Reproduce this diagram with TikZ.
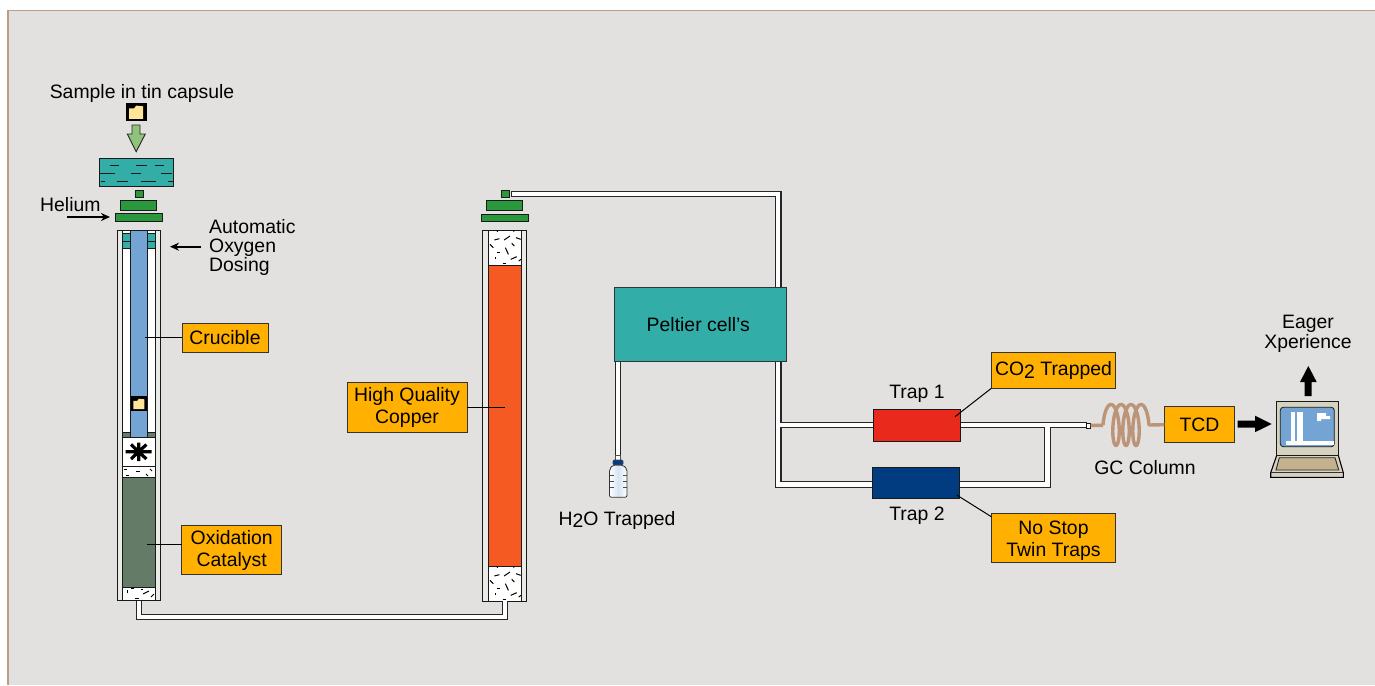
\documentclass[tikz,border=0pt]{standalone}
\usepackage{fontspec}
\setmainfont{Liberation Sans}
\definecolor{bgc}{HTML}{E2E1DF}
\definecolor{edgec}{HTML}{BC9E87}
\definecolor{tealc}{HTML}{33ADA8}
\definecolor{greenc}{HTML}{2A983C}
\definecolor{cruc}{HTML}{74A4D3}
\definecolor{copperc}{HTML}{F55A22}
\definecolor{catc}{HTML}{647B68}
\definecolor{redc}{HTML}{E8291C}
\definecolor{navyc}{HTML}{003C7F}
\definecolor{tagc}{HTML}{FFB000}
\definecolor{arrowg}{HTML}{8FC27A}
\definecolor{yelc}{HTML}{FFE59A}
\definecolor{coilc}{HTML}{BC9478}
\definecolor{pcbody}{HTML}{D6D2C0}
\definecolor{pckey}{HTML}{C4B28E}
\definecolor{wallc}{HTML}{E9ECE6}
\usetikzlibrary{arrows.meta}
\tikzset{
  lab/.style={font=\fontsize{19.4}{20.6}\selectfont, text=black, align=center, inner sep=0pt},
  labl/.style={lab, align=left, anchor=west},
  tagbox/.style={draw=black!80, line width=1pt, fill=tagc, inner sep=0pt, outer sep=0pt, align=center,
    font=\fontsize{19.4}{22}\selectfont, text=black},
  part/.style={draw=black!90, line width=1pt, inner sep=0pt, outer sep=0pt},
  pipe/.style={draw=black!85, line width=1.1pt, double=white, double distance=4.2pt, line join=miter},
  leader/.style={draw=black, line width=1pt},
  spk/.style={draw=black, line width=1pt},
  marrow/.style={-{Stealth[length=9pt,width=8pt]}, line width=1.7pt},
  bigarrow/.style={fill=black, draw=none},
}
\newcommand{\speck}{%
  \foreach \a/\b/\c/\d in {103/212/118/208,132/212/150/200,168/205/182/210,90/225/100/235,155/222/163/230,136/235/145/255,110/250/120/250,105/262/105/270,152/270/170/262,176/275/183/270,128/282/137/282,110/183/113/187,160/183/162/187}
    {\draw[spk] ({(\a-86)/3},{(\b-182)/3}) -- ({(\c-86)/3},{(\d-182)/3});}}
\newcommand{\capsl}{%
  \fill[yelc] (-7,-4) -- (-2,-4) -- (0,-6.7) -- (7,-6) -- (7,6.5) -- (-7,6.5) -- cycle;}
\begin{document}
\begin{tikzpicture}[x=1pt,y=-1pt]
\useasboundingbox (0,0) rectangle (1375,685);
\fill[white] (0,0) rectangle (1375,685);
\fill[bgc] (8,10.5) rectangle (1375,685);
\draw[edgec,line width=1.3pt] (8,685) -- (8,10.5) -- (1375,10.5);

% --- sample feed
\node[lab] (sample) at (142,93) {Sample in tin capsule};
\node[fill=black, minimum width=21pt, minimum height=18pt, inner sep=0pt, outer sep=0pt] (caps) at (136.2,112.3) {};
\begin{scope}[shift={(136.2,112.3)}]\capsl\end{scope}
\draw[fill=arrowg, draw=black!85, line width=.9pt] (132,125) -- (140,125) -- (140,134) -- (145.3,134) -- (136.2,151.7) -- (127.3,134) -- (132,134) -- cycle;
\node[part, fill=tealc, minimum width=73.7pt, minimum height=28.4pt] (autosampler) at (136.2,172.5) {};
\foreach \yy/\xa/\xb in {165/110/119,165/136/146.7,165/155/164,173/100/115,173/130.7/140.7,173/161/172.3,181.7/100.7/105,181.7/116.7/128.3,181.7/141/156,181.7/168.3/173}
  {\draw[line width=1pt,black!90] (\xa,\yy) -- (\xb,\yy);}

% --- left caps
\node[part, fill=greenc, minimum width=8pt, minimum height=6.7pt] (lcap0) at (139,194.3) {};
\node[part, fill=greenc, minimum width=36pt, minimum height=9.7pt] (lcap1) at (138.7,205.8) {};
\node[part, fill=greenc, minimum width=47.4pt, minimum height=7.7pt] (lcap2) at (139,217.8) {};

% --- left column
\node[part, fill=wallc, minimum width=43.7pt, minimum height=370.6pt] (leftcol) at (138.9,415.3) {};
\node[part, fill=white, minimum width=32.3pt, minimum height=370.6pt] (leftin) at (138.9,415.3) {};
\draw[part, fill=tealc] (122.7,233) rectangle (155,248);
\draw[line width=.8pt, black!90] (122.7,241) -- (155,241);
\draw[part, fill=catc] (122.7,432) rectangle (155,437);
\draw[part, fill=cruc] (130.3,230.5) rectangle (147.4,437);
\node[fill=black, minimum width=16.5pt, minimum height=14.5pt, inner sep=0pt, outer sep=0pt] (caps2) at (138.8,403.5) {};
\begin{scope}[shift={(138.8,404)},scale=.78]\capsl\end{scope}
\draw[part, fill=catc] (122.7,477) rectangle (155,587);
\draw[line width=1pt,black!90] (122.7,466) -- (155,466);
\draw[line width=3.2pt,black] (125.7,451.7) -- (151.7,451.7) (138.7,442.5) -- (138.7,461) (131,444.5) -- (146.4,459) (131,459) -- (146.4,444.5);
\foreach \a/\b/\c/\d in {124/469/127/469,136/471/140/471,150/469/152/471,126/475/129/475,146/474/148/476,
  127/590/127/593,135/598/139/598,143/594/149/591,151/597/154/594,131/588/134/588,141/589/143/589}
  {\draw[spk] (\a,\b) -- (\c,\d);}
\draw[line width=1pt,black!90] (122.7,600.5) -- (155,600.5);

% --- right caps
\node[part, fill=greenc, minimum width=8pt, minimum height=7pt] (rcap0) at (505,194.2) {};
\node[part, fill=greenc, minimum width=36.3pt, minimum height=9.7pt] (rcap1) at (504.8,205.8) {};
\node[part, fill=greenc, minimum width=47pt, minimum height=7.7pt] (rcap2) at (504.5,218) {};

% --- right column
\node[part, fill=wallc, minimum width=44pt, minimum height=371pt] (rightcol) at (504.7,415.5) {};
\node[part, fill=white, minimum width=33pt, minimum height=371pt] (rightin) at (505.2,415.5) {};
\draw[part, fill=copperc] (488.7,265) rectangle (521.7,566);
\begin{scope}[shift={(488.7,230)}]\speck\end{scope}
\begin{scope}[shift={(488.7,566)}]\speck\end{scope}

% --- side labels
\node[labl] (helium) at (40,205) {Helium};
\coordinate (heS) at (66.7,217);
\coordinate (heE) at (110,217);
\draw[marrow] (heS) -- (heE);
\node[lab, align=left, anchor=north west, font=\fontsize{19.4}{19.2}\selectfont] (oxy) at (209,219) {Automatic\\Oxygen\\Dosing};
\coordinate (oxS) at (201,246.7);
\coordinate (oxE) at (170,246.7);
\draw[marrow] (oxS) -- (oxE);

% --- tags on columns
\node[tagbox, minimum width=86pt, minimum height=29pt] (crucible) at (225,337.5) {Crucible};
\coordinate (cruT) at (145,337.5);
\draw[leader] (crucible.west) -- (cruT);
\node[tagbox, minimum width=100pt, minimum height=49.3pt] (oxcat) at (231.7,550.3) {Oxidation\\Catalyst};
\coordinate (oxT) at (146.7,544.3);
\draw[leader] (oxcat.west |- oxT) -- (oxT);
\node[tagbox, minimum width=120pt, minimum height=50pt] (hqc) at (407,407) {\rule{0pt}{16pt}High Quality\\Copper};
\coordinate (hqT) at (505,407);
\draw[leader] (hqc.east) -- (hqT);

% --- pipes
\coordinate (lbot) at (139,600.5);
\coordinate (lv) at (139,617);
\coordinate (rv) at (505,617);
\coordinate (rbot) at (505,601);
\draw[pipe] (lbot) -- (lv) -- (rv) -- (rbot);

\coordinate (ts) at (511.5,194);
\coordinate (tc) at (778.3,194);
\coordinate (tp) at (778.3,288);
\draw[pipe] (ts) -- (tc) -- (tp);
\draw[line width=1pt,black!85] (511.5,191) -- (511.5,197);

\coordinate (pb) at (618.2,361.5);
\coordinate (bt) at (618.2,455);
\draw[pipe] (pb) -- (bt);

\coordinate (po) at (778.3,361.5);
\coordinate (ju) at (778.3,425.2);
\coordinate (jl) at (778.3,484.4);
\coordinate (jr) at (1047.5,484.4);
\coordinate (jt) at (1047.5,425.2);
\coordinate (outl) at (1086.5,425.2);
\draw[pipe] (po) -- (jl) -- (jr) -- (jt) (ju) -- (outl);

% --- Peltier and traps (over the pipes)
\node[part, draw=black!80, fill=tealc, minimum width=171.7pt, minimum height=73.5pt, lab] (peltier) at (700.8,324.7) {Peltier cell's\hspace{5pt}};
\node[part, fill=redc, minimum width=87pt, minimum height=31.3pt] (trap1) at (916.8,425.6) {};
\node[part, fill=navyc, minimum width=87.3pt, minimum height=31pt] (trap2) at (916.3,482.5) {};

\node[lab] (t1lab) at (917,393.5) {Trap 1};
\node[lab] (t2lab) at (917,516) {Trap 2};
\node[tagbox, minimum width=124.4pt, minimum height=35.6pt] (co2) at (1053.5,370.5) {CO\raisebox{-2.5pt}{2} Trapped};
\coordinate (co2T) at (955,416.7);
\draw[leader] (co2.south west) -- (co2T);
\node[tagbox, minimum width=124.4pt, minimum height=49pt] (nostop) at (1053.5,537.5) {\rule{0pt}{21pt}No Stop\\Twin Traps};
\coordinate (nsT) at (956.7,495);
\coordinate (nsS) at (991.3,516.7);
\draw[leader] (nsS) -- (nsT);

% --- bottle
\draw[line width=.8pt,black!70,fill=white] (615.5,455) rectangle (620.8,460);
\draw[line width=.8pt,black!80,top color=white,bottom color=white,middle color=cruc!30,shading angle=90,rounded corners=2pt] (609.5,469) -- (613,465) -- (623,465) -- (627,469) -- (627,497.3) -- (609.5,497.3) -- cycle;
\node[fill=navyc, draw=black!70, line width=.6pt, rounded corners=1pt, minimum width=10pt, minimum height=5pt, inner sep=0pt, outer sep=0pt] (bcap) at (618,462.5) {};
\foreach \yy in {475,481.7,487.7}
  {\draw[line width=.9pt,black!70] (610,\yy) -- (613.5,\yy) (623,\yy) -- (626.5,\yy);}
\node[lab] (h2o) at (617,520) {H\raisebox{-2.5pt}{2}O Trapped};

% --- GC column
\node[part, fill=white, minimum width=4.6pt, minimum height=5pt, line width=.8pt] (inj) at (1088.4,425.4) {};
\node[tagbox, minimum width=70.4pt, minimum height=36pt] (tcd) at (1199.5,424.7) {TCD};
\coordinate (coilS) at (1103,425.4);
\draw[coilc, line width=3.4pt, line join=round] (inj.east) -- (coilS)
  plot[domain=-90:1170,samples=220,smooth] ({1111+\x/36+5.5*sin(\x)},{425-20.5*cos(\x)}) -- (tcd.west);
\node[lab] (gclab) at (1145,467.5) {GC Column};

% --- detector to PC
\fill[bigarrow] (1237.7,420.5) -- (1255,420.5) -- (1255,415.7) -- (1271.7,424) -- (1255,432.2) -- (1255,427.5) -- (1237.7,427.5) -- cycle;
\fill[bigarrow] (1304.7,396) -- (1304.7,382) -- (1300,382) -- (1308.3,366) -- (1316.7,382) -- (1311.7,382) -- (1311.7,396) -- cycle;
\node[lab] (eager) at (1308,334) {Eager\\Xperience};

% --- computer
\draw[line width=1.1pt,black,fill=pcbody] (1270.7,472.7) -- (1276.7,455.3) -- (1338.3,455.3) -- (1343.3,472.7) -- (1343.3,477.3) -- (1270.7,477.3) -- cycle;
\draw[line width=.9pt,black!80] (1270.7,472.7) -- (1343.3,472.7);
\draw[line width=.9pt,black!85,fill=pckey] (1279.3,457.7) -- (1335,457.7) -- (1338.7,470) -- (1276,470) -- cycle;
\node[part, line width=1.2pt, fill=pcbody, minimum width=61.6pt, minimum height=53.6pt] (pc) at (1307.5,428.5) {};
\node[part, line width=.8pt, fill=cruc, rounded corners=3pt, minimum width=54pt, minimum height=39.4pt] (screen) at (1307.3,427) {};
\fill[white] (1286,441.3) rectangle (1334,444.7);
\fill[white] (1290.7,411.7) rectangle (1295,442);
\fill[white] (1297.3,411.7) rectangle (1302.7,442);
\fill[white] (1317,413) -- (1326,413) -- (1326,416) -- (1330,416) -- (1330,419) -- (1321,419) -- (1321,421) -- (1317,421) -- cycle;
\end{tikzpicture}
\end{document}
